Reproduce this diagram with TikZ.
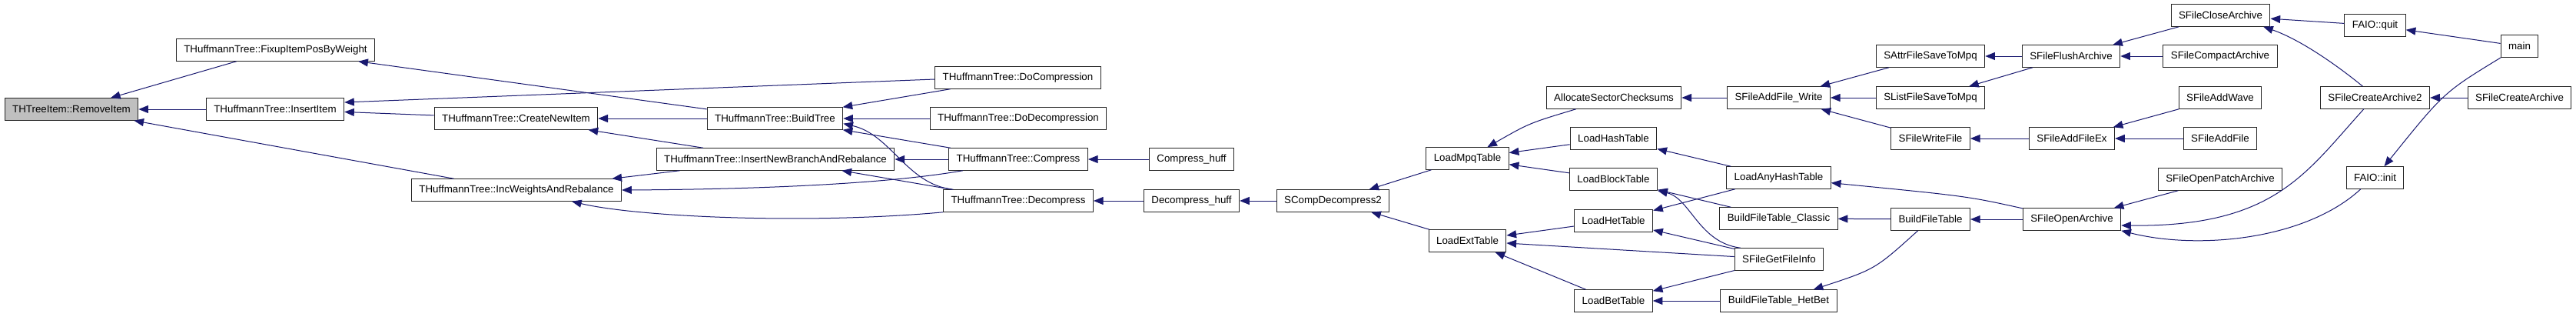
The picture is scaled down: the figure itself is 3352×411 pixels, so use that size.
\documentclass[tikz,border=0pt]{standalone}
\usepackage{fontspec}
\setmainfont{Liberation Sans}
\usetikzlibrary{arrows.meta}
\definecolor{edgeblue}{HTML}{191970}
\definecolor{rootgray}{HTML}{BFBFBF}

\begin{document}
\begin{tikzpicture}[
  x = 0.75pt, y = -0.75pt,
  every node/.style = {font=\fontsize{10}{12}\selectfont},
  fnbox/.style = {draw=black!85, line width=0.75pt, fill=white, inner xsep=7.5pt, inner ysep=0pt, minimum height=21.4pt},
  rootbox/.style = {fnbox, fill=rootgray},
  calls/.style = {<-, draw=edgeblue, line width=0.75pt},
  >={Triangle[length=9.5pt, width=7.5pt]}
]
  \fill[white] (0,0) rectangle (3352,411);
  \useasboundingbox (0,0) rectangle (3352,411);

  \node[rootbox] (remove) at (93,142) {THTreeItem::RemoveItem};
  \node[fnbox] (fixup) at (358.5,65) {THuffmannTree::FixupItemPosByWeight};
  \node[fnbox] (insertitem) at (358,142) {THuffmannTree::InsertItem};
  \node[fnbox] (incweights) at (672,247) {THuffmannTree::IncWeightsAndRebalance};
  \node[fnbox] (createnew) at (671.5,154) {THuffmannTree::CreateNewItem};
  \node[fnbox] (buildtree) at (1008.5,154) {THuffmannTree::BuildTree};
  \node[fnbox] (insertbranch) at (1009,207) {THuffmannTree::InsertNewBranchAndRebalance};
  \node[fnbox] (docomp) at (1324.5,101) {THuffmannTree::DoCompression};
  \node[fnbox] (dodecomp) at (1325,154) {THuffmannTree::DoDecompression};
  \node[fnbox] (compress) at (1325,207) {THuffmannTree::Compress};
  \node[fnbox] (decompress) at (1325,261) {THuffmannTree::Decompress};
  \node[fnbox] (compresshuff) at (1550.5,207) {Compress\_huff};
  \node[fnbox] (decompresshuff) at (1550.5,261) {Decompress\_huff};
  \node[fnbox] (scomp) at (1734.5,261) {SCompDecompress2};
  \node[fnbox] (loadmpq) at (1909.5,206) {LoadMpqTable};
  \node[fnbox] (loadext) at (1909.5,313) {LoadExtTable};
  \node[fnbox] (allocsec) at (2100,127) {AllocateSectorChecksums};
  \node[fnbox] (loadhash) at (2099.5,180) {LoadHashTable};
  \node[fnbox] (loadblock) at (2099.5,233) {LoadBlockTable};
  \node[fnbox] (loadhet) at (2099.5,287) {LoadHetTable};
  \node[fnbox] (loadbet) at (2099.5,391) {LoadBetTable};
  \node[fnbox] (addwrite) at (2314.5,127) {SFileAddFile\_Write};
  \node[fnbox] (loadanyhash) at (2314.5,231) {LoadAnyHashTable};
  \node[fnbox] (bftclassic) at (2314.5,284) {BuildFileTable\_Classic};
  \node[fnbox] (getfileinfo) at (2315,337) {SFileGetFileInfo};
  \node[fnbox] (bfthetbet) at (2314.5,391) {BuildFileTable\_HetBet};
  \node[fnbox] (attrsave) at (2512,73) {SAttrFileSaveToMpq};
  \node[fnbox] (listsave) at (2512,127) {SListFileSaveToMpq};
  \node[fnbox] (writefile) at (2512,180) {SFileWriteFile};
  \node[fnbox] (bft) at (2512,285) {BuildFileTable};
  \node[fnbox] (flush) at (2695,73) {SFileFlushArchive};
  \node[fnbox] (addfileex) at (2696,180) {SFileAddFileEx};
  \node[fnbox] (openarchive) at (2696,285) {SFileOpenArchive};
  \node[fnbox] (closearchive) at (2889.5,20) {SFileCloseArchive};
  \node[fnbox] (compact) at (2889,73) {SFileCompactArchive};
  \node[fnbox] (addwave) at (2889,127) {SFileAddWave};
  \node[fnbox] (addfile) at (2889,180) {SFileAddFile};
  \node[fnbox] (openpatch) at (2889,233) {SFileOpenPatchArchive};
  \node[fnbox] (quit) at (3090.5,33) {FAIO::quit};
  \node[fnbox] (main) at (3278.5,60) {main};
  \node[fnbox] (create2) at (3090.5,127) {SFileCreateArchive2};
  \node[fnbox] (create) at (3278.5,127) {SFileCreateArchive};
  \node[fnbox] (init) at (3090.5,231) {FAIO::init};

  \draw[calls] (remove) -- (fixup);
  \draw[calls] (remove) -- (insertitem);
  \draw[calls] (remove) -- (incweights);
  \draw[calls] (fixup) -- (buildtree);
  \draw[calls] ([yshift=6.75pt]insertitem.east) -- ([yshift=-1.5pt]docomp.west);
  \draw[calls] (insertitem) -- (createnew);
  \draw[calls] (createnew) -- (buildtree);
  \draw[calls] (createnew) -- (insertbranch);
  \draw[calls] (incweights) -- (insertbranch);
  \draw[calls] (incweights.east) .. controls (1000,246) and (1160,238) .. ([xshift=14pt]compress.south west);
  \draw[calls] ([xshift=54pt]incweights.south) .. controls (830,282) and (1050,292) .. (decompress.south west);
  \draw[calls] (buildtree) -- (docomp);
  \draw[calls] (buildtree) -- (dodecomp);
  \draw[calls] (buildtree) -- (compress);
  \draw[calls] ([yshift=-5pt]buildtree.east) .. controls (1160,175) and (1180,240) .. ([xshift=10pt]decompress.north west);
  \draw[calls] (insertbranch) -- (compress);
  \draw[calls] (insertbranch) -- (decompress);
  \draw[calls] (compress) -- (compresshuff);
  \draw[calls] (decompress) -- (decompresshuff);
  \draw[calls] (decompresshuff) -- (scomp);
  \draw[calls] (scomp) -- (loadmpq);
  \draw[calls] (scomp) -- (loadext);
  \draw[calls] (loadmpq) .. controls (1990,160) .. (allocsec);
  \draw[calls] (loadmpq) -- (loadhash);
  \draw[calls] (loadmpq) -- (loadblock);
  \draw[calls] (loadext) -- (loadhet);
  \draw[calls] (loadext) -- (getfileinfo);
  \draw[calls] (loadext) -- (loadbet);
  \draw[calls] (allocsec) -- (addwrite);
  \draw[calls] (loadhash) -- (loadanyhash);
  \draw[calls] (loadblock) -- (bftclassic);
  \draw[calls] (loadblock.south east) .. controls (2200,258) and (2210,315) .. ([xshift=6pt]getfileinfo.north west);
  \draw[calls] (loadhet) -- (loadanyhash);
  \draw[calls] (loadhet) -- (getfileinfo);
  \draw[calls] (loadbet) -- (getfileinfo);
  \draw[calls] (loadbet) -- (bfthetbet);
  \draw[calls] (addwrite) -- (attrsave);
  \draw[calls] (addwrite) -- (listsave);
  \draw[calls] (addwrite) -- (writefile);
  \draw[calls] (loadanyhash) .. controls (2560,255) .. (openarchive);
  \draw[calls] (bftclassic) -- (bft);
  \draw[calls] (bfthetbet) .. controls (2440,350) .. (bft);
  \draw[calls] (attrsave) -- (flush);
  \draw[calls] (listsave) -- (flush);
  \draw[calls] (writefile) -- (addfileex);
  \draw[calls] (bft) -- (openarchive);
  \draw[calls] (flush) -- (closearchive);
  \draw[calls] (flush) -- (compact);
  \draw[calls] (addfileex) -- (addwave);
  \draw[calls] (addfileex) -- (addfile);
  \draw[calls] (openarchive) -- (openpatch);
  \draw[calls] ([yshift=-6pt]openarchive.east) .. controls (2960,295) and (3000,225) .. ([xshift=-11pt]create2.south);
  \draw[calls] (openarchive.south east) .. controls (2860,325) and (3000,312) .. ([xshift=-14pt]init.south);
  \draw[calls] (closearchive) -- (quit);
  \draw[calls] ([xshift=-7pt]closearchive.south east) .. controls (2995,52) and (3045,88) .. ([xshift=-12pt]create2.north);
  \draw[calls] (quit) -- (main);
  \draw[calls] (init) .. controls (3180,120) .. (main);
  \draw[calls] (create2) -- (create);
\end{tikzpicture}
\end{document}
